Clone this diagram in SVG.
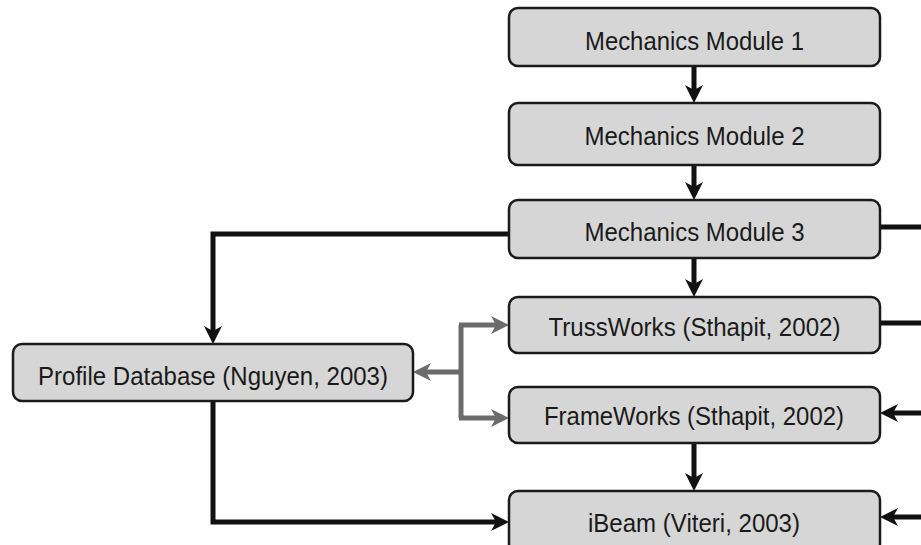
<svg xmlns="http://www.w3.org/2000/svg" width="921" height="545" viewBox="0 0 921 545">
<style>
.box{fill:#d6d6d6;stroke:#1a1a1a;stroke-width:2.5}
.lbl{font-family:"Liberation Sans",Arial,sans-serif;font-size:26px;fill:#1a1a1a;text-anchor:middle}
.blk{fill:none;stroke:#111;stroke-width:5}
.gry{fill:none;stroke:#6b6b6b;stroke-width:5}
</style>
<defs>
<marker id="ab" viewBox="0 0 18 18" refX="10" refY="9" markerWidth="18" markerHeight="18" markerUnits="userSpaceOnUse" orient="auto">
<path d="M0,0 L18,9 L0,18 L5,9 Z" fill="#111"/>
</marker>
<marker id="ag" viewBox="0 0 18 18" refX="10" refY="9" markerWidth="18" markerHeight="18" markerUnits="userSpaceOnUse" orient="auto">
<path d="M0,0 L18,9 L0,18 L5,9 Z" fill="#6b6b6b"/>
</marker>
</defs>
<rect width="921" height="545" fill="#fff"/>
<g id="connectors">
<path class="blk" d="M694,66 V95" marker-end="url(#ab)"/>
<path class="blk" d="M694,165 V192" marker-end="url(#ab)"/>
<path class="blk" d="M694,258 V289" marker-end="url(#ab)"/>
<path class="blk" d="M694,443 V483" marker-end="url(#ab)"/>
<path class="blk" d="M509,234 H213 V336" marker-end="url(#ab)"/>
<path class="blk" d="M213,401 V522 H501" marker-end="url(#ab)"/>
<path class="gry" d="M461,372 H421" marker-end="url(#ag)"/>
<path class="gry" d="M461,325 V418"/>
<path class="gry" d="M459,325 H501" marker-end="url(#ag)"/>
<path class="gry" d="M459,418 H501" marker-end="url(#ag)"/>
<path class="blk" d="M880,227 H921"/>
<path class="blk" d="M880,323 H921"/>
<path class="blk" d="M921,413 H888" marker-end="url(#ab)"/>
<path class="blk" d="M921,517 H888" marker-end="url(#ab)"/>
</g>
<g id="mm1"><rect class="box" x="509" y="8" width="371" height="58" rx="9"/><text class="lbl" x="694.5" y="50" textLength="219" lengthAdjust="spacingAndGlyphs">Mechanics Module 1</text></g>
<g id="mm2"><rect class="box" x="509" y="103" width="371" height="62" rx="9"/><text class="lbl" x="694.5" y="145" textLength="220" lengthAdjust="spacingAndGlyphs">Mechanics Module 2</text></g>
<g id="mm3"><rect class="box" x="509" y="200" width="371" height="58" rx="9"/><text class="lbl" x="694.5" y="241" textLength="220" lengthAdjust="spacingAndGlyphs">Mechanics Module 3</text></g>
<g id="trussworks"><rect class="box" x="509" y="297" width="371" height="56" rx="9"/><text class="lbl" x="694.5" y="336" textLength="292" lengthAdjust="spacingAndGlyphs">TrussWorks (Sthapit, 2002)</text></g>
<g id="frameworks"><rect class="box" x="509" y="387" width="371" height="56" rx="9"/><text class="lbl" x="694" y="425" textLength="300" lengthAdjust="spacingAndGlyphs">FrameWorks (Sthapit, 2002)</text></g>
<g id="ibeam"><rect class="box" x="509" y="491" width="371" height="62" rx="9"/><text class="lbl" x="694" y="532" textLength="212" lengthAdjust="spacingAndGlyphs">iBeam (Viteri, 2003)</text></g>
<g id="profiledb"><rect class="box" x="13" y="344" width="400" height="57" rx="9"/><text class="lbl" x="213" y="385" textLength="350" lengthAdjust="spacingAndGlyphs">Profile Database (Nguyen, 2003)</text></g>
</svg>
